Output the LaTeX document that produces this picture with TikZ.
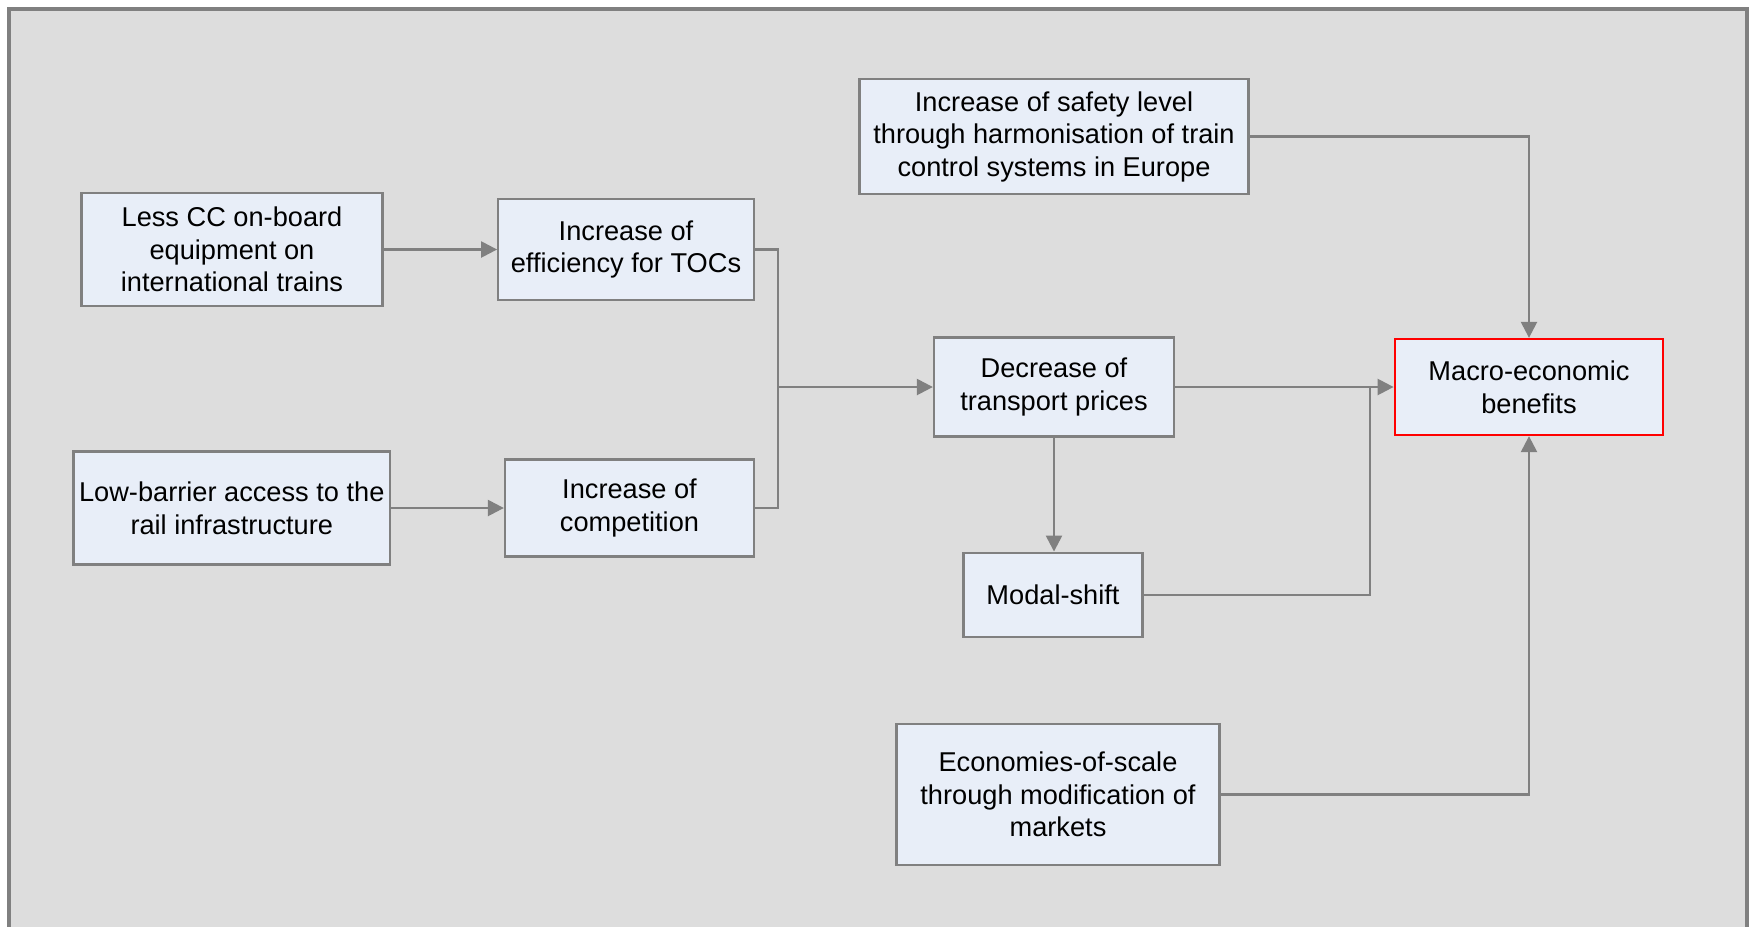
\documentclass[tikz,border=0pt]{standalone}
\usepackage{fontspec}
\setmainfont{Liberation Sans}
\usetikzlibrary{arrows.meta}
\definecolor{bggray}{HTML}{DDDDDD}
\definecolor{framegray}{HTML}{808080}
\definecolor{boxfill}{HTML}{E8EEF8}
\definecolor{linegray}{HTML}{808080}
\definecolor{redline}{HTML}{FF0000}
\tikzset{
  box/.style={draw=framegray, fill=boxfill, line width=1.15pt, align=center,
    inner sep=0pt, font=\fontsize{13.6}{16.3}\selectfont},
  redbox/.style={box, draw=redline},
  conn/.style={draw=linegray, line width=1.2pt},
  arr/.style={conn, -{Triangle[length=8pt,width=8pt]}}
}
\begin{document}
\begin{tikzpicture}[x=0.5pt,y=-0.5pt]
\useasboundingbox (0,0) rectangle (1753,927);
\fill[white] (0,0) rectangle (1753,927);
\draw[fill=bggray, draw=framegray, line width=2pt] (8.5,8.5) rectangle (1746.5,960);

\node[box, minimum width=150.5pt, minimum height=56.5pt] (A) at (232,249.5)
  {Less CC on-board\\equipment on\\international trains};
\node[box, minimum width=127.75pt, minimum height=50.5pt] (B) at (626,249.5)
  {Increase of\\efficiency for TOCs};
\node[box, minimum width=158.25pt, minimum height=56.5pt] (C) at (231.8,508)
  {Low-barrier access to the\\rail infrastructure};
\node[box, minimum width=124.5pt, minimum height=48.5pt] (D) at (629.5,508)
  {Increase of\\competition};
\node[box, minimum width=120pt, minimum height=49.5pt] (E) at (1054,387)
  {Decrease of\\transport prices};
\node[box, minimum width=194.5pt, minimum height=57.5pt] (F) at (1054,136.6)
  {Increase of safety level\\through harmonisation of train\\control systems in Europe};
\node[redbox, minimum width=134.25pt, minimum height=48pt] (G) at (1529,387)
  {Macro-economic\\benefits};
\node[box, minimum width=89.5pt, minimum height=42.3pt] (M) at (1053,595)
  {Modal-shift};
\node[box, minimum width=161.5pt, minimum height=70.5pt] (H) at (1058,794.5)
  {Economies-of-scale\\through modification of\\markets};

\coordinate (j1) at (778,249.5);
\coordinate (j2) at (778,508);
\coordinate (j3) at (778,387);
\coordinate (k1) at (1370,595);
\coordinate (k2) at (1370,387);

\draw[arr] (A.east) -- (B.west);
\draw[arr] (C.east) -- (D.west);
\draw[conn] (B.east) -- (j1) -- (j2) -- (D.east);
\draw[arr] (j3) -- (E.west);
\draw[arr] (E.east) -- (G.west);
\draw[arr] (F.east) -| (G.north);
\draw[arr] (E.south) -- (E.south |- M.north);
\draw[conn] (M.east) -- (k1) -- (k2);
\draw[arr] (H.east) -| (G.south);
\end{tikzpicture}
\end{document}
